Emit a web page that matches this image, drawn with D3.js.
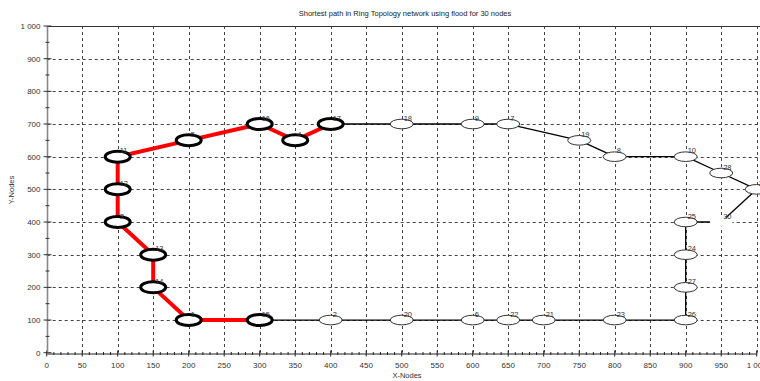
<!DOCTYPE html>
<html>
<head>
<meta charset="utf-8">
<script src="https://cdn.jsdelivr.net/npm/d3@7"></script>
<style>
  html, body { margin: 0; padding: 0; background: #fff; overflow: hidden; }
  svg { display: block; font-family: "Liberation Sans", "DejaVu Sans", sans-serif; }
</style>
</head>
<body>
<svg id="chart" width="760" height="381"></svg>
<script>
// Node identifiers and their coordinates on the 1000 x 1000 field
const nodeIds = [1, 2, 3, 4, 5, 6, 7, 8, 9, 10, 11, 12, 13, 14, 15, 16, 17, 18, 19, 20, 21, 22, 23, 24, 25, 26, 27, 28, 29, 30];
const nodeX   = [200, 400, 100, 350, 200, 600, 650, 800, 600, 900, 100, 100, 150, 150, 300, 300, 400, 500, 750, 500, 700, 650, 800, 900, 900, 900, 900, 950, 1000, 950];
const nodeY   = [100, 100, 400, 650, 650, 100, 700, 600, 700, 600, 600, 500, 300, 200, 100, 700, 700, 700, 650, 100, 100, 100, 100, 300, 400, 100, 200, 550, 500, 400];

// Ring order of the topology (closed loop)
const ringOrder = [15, 2, 20, 6, 22, 21, 23, 26, 27, 24, 25, 30, 29, 28, 10, 8, 19, 7, 9, 18, 17, 4, 16, 5, 11, 12, 3, 13, 14, 1];

// Shortest path found by flooding
const pathNodes = [17, 4, 16, 5, 11, 12, 3, 13, 14, 1, 15];

// Nodes drawn without an outline
const hiddenOutline = [30];

// Axis ticks
const xTicks = [0, 50, 100, 150, 200, 250, 300, 350, 400, 450, 500, 550, 600, 650, 700, 750, 800, 850, 900, 950, 1000];
const yTicks = [0, 100, 200, 300, 400, 500, 600, 700, 800, 900, 1000];

const titleText = "Shortest path in Ring Topology network using flood for 30 nodes";
const xLabel = "X-Nodes";
const yLabel = "Y-Nodes";

const svg = d3.select("#chart");
const x = d3.scaleLinear().domain([0, 1000]).range([46.7, 756.7]);
const y = d3.scaleLinear().domain([0, 1000]).range([352.7, 26]);

const pos = {};
nodeIds.forEach((id, i) => { pos[id] = { x: nodeX[i], y: nodeY[i] }; });

const fmt = v => v >= 1000 ? d3.format(",")(v).replace(",", " ") : String(v);

// Dashed grid
const grid = svg.append("g").attr("stroke", "#444").attr("stroke-width", 1).attr("stroke-dasharray", "3,3");
grid.selectAll("line.v").data(xTicks.slice(1)).enter().append("line")
  .attr("x1", d => Math.round(x(d)) + 0.5).attr("x2", d => Math.round(x(d)) + 0.5)
  .attr("y1", y(1000)).attr("y2", y(0));
grid.selectAll("line.h").data(yTicks.slice(1, -1)).enter().append("line")
  .attr("x1", x(0)).attr("x2", 760)
  .attr("y1", d => Math.round(y(d)) + 0.5).attr("y2", d => Math.round(y(d)) + 0.5);

// Top frame line
svg.append("line").attr("x1", x(0)).attr("x2", 760)
  .attr("y1", Math.round(y(1000)) + 0.5).attr("y2", Math.round(y(1000)) + 0.5)
  .attr("stroke", "#333").attr("stroke-width", 1.2);

// X axis
const xAxis = svg.append("g").attr("transform", `translate(0,${Math.round(y(0)) + 0.5})`);
xAxis.call(d3.axisBottom(x).tickValues(d3.range(0, 1001, 10)).tickSize(0).tickFormat(""));
xAxis.select(".domain").attr("stroke", "#222").attr("stroke-width", 1);
xAxis.selectAll(".tick line").remove();
xAxis.selectAll("line.minor").data(d3.range(0, 1001, 10)).enter().append("line")
  .attr("x1", d => x(d)).attr("x2", d => x(d))
  .attr("y1", d => d % 50 === 0 ? -3 : -1.5).attr("y2", d => d % 50 === 0 ? 3 : 1.5)
  .attr("stroke", "#222").attr("stroke-width", 1);
xAxis.selectAll("text.lbl").data(xTicks).enter().append("text")
  .attr("x", d => x(d)).attr("y", 14)
  .attr("text-anchor", "middle").attr("font-size", 8).attr("fill", "#333")
  .text(fmt);

// Y axis
const yAxis = svg.append("g").attr("transform", `translate(${Math.round(x(0)) + 0.5},0)`);
yAxis.append("line").attr("x1", 0).attr("x2", 0).attr("y1", y(1000)).attr("y2", y(0))
  .attr("stroke", "#888").attr("stroke-width", 1.6);
yAxis.selectAll("line.tk").data(d3.range(0, 1001, 50)).enter().append("line")
  .attr("x1", d => d % 100 === 0 ? -4 : -2).attr("x2", d => d % 100 === 0 ? 4 : 2)
  .attr("y1", d => y(d)).attr("y2", d => y(d))
  .attr("stroke", "#333").attr("stroke-width", 1);
yAxis.selectAll("text.lbl").data(yTicks).enter().append("text")
  .attr("x", -7).attr("y", d => y(d) + 3)
  .attr("text-anchor", "end").attr("font-size", 8).attr("fill", "#333")
  .text(fmt);

// Titles
svg.append("text").attr("x", 405).attr("y", 16).attr("text-anchor", "middle")
  .attr("font-size", 7.5).attr("fill", "#222").text(titleText);
svg.append("text").attr("x", 407).attr("y", 378).attr("text-anchor", "middle")
  .attr("font-size", 7.5).attr("fill", "#333").text(xLabel);
svg.append("text").attr("transform", `translate(14,190) rotate(-90)`).attr("text-anchor", "middle")
  .attr("font-size", 7.5).attr("fill", "#333").text(yLabel);

// Ring edges
const ringEdges = ringOrder.map((id, i) => [id, ringOrder[(i + 1) % ringOrder.length]]);
svg.append("g").selectAll("line").data(ringEdges).enter().append("line")
  .attr("x1", d => x(pos[d[0]].x)).attr("y1", d => y(pos[d[0]].y))
  .attr("x2", d => x(pos[d[1]].x)).attr("y2", d => y(pos[d[1]].y))
  .attr("stroke", "#000").attr("stroke-width", 1.3);

// Shortest path edges
const pathEdges = pathNodes.slice(1).map((id, i) => [pathNodes[i], id]);
svg.append("g").selectAll("line").data(pathEdges).enter().append("line")
  .attr("x1", d => x(pos[d[0]].x)).attr("y1", d => y(pos[d[0]].y))
  .attr("x2", d => x(pos[d[1]].x)).attr("y2", d => y(pos[d[1]].y))
  .attr("stroke", "#ff0000").attr("stroke-width", 4);

// Nodes
const nodes = svg.append("g").selectAll("g").data(nodeIds).enter().append("g")
  .attr("transform", d => `translate(${x(pos[d].x)},${y(pos[d].y)})`);
nodes.append("ellipse")
  .attr("rx", d => pathNodes.includes(d) ? 12.5 : 11.5)
  .attr("ry", d => pathNodes.includes(d) ? 5.5 : 4.8)
  .attr("fill", "#fff")
  .attr("stroke", d => hiddenOutline.includes(d) ? "none" : (pathNodes.includes(d) ? "#000" : "#333"))
  .attr("stroke-width", d => pathNodes.includes(d) ? 3 : 1);
nodes.append("text")
  .attr("x", 2).attr("y", -3.5)
  .attr("font-size", 7.5).attr("fill", "#333")
  .text(d => d);
</script>
</body>
</html>
